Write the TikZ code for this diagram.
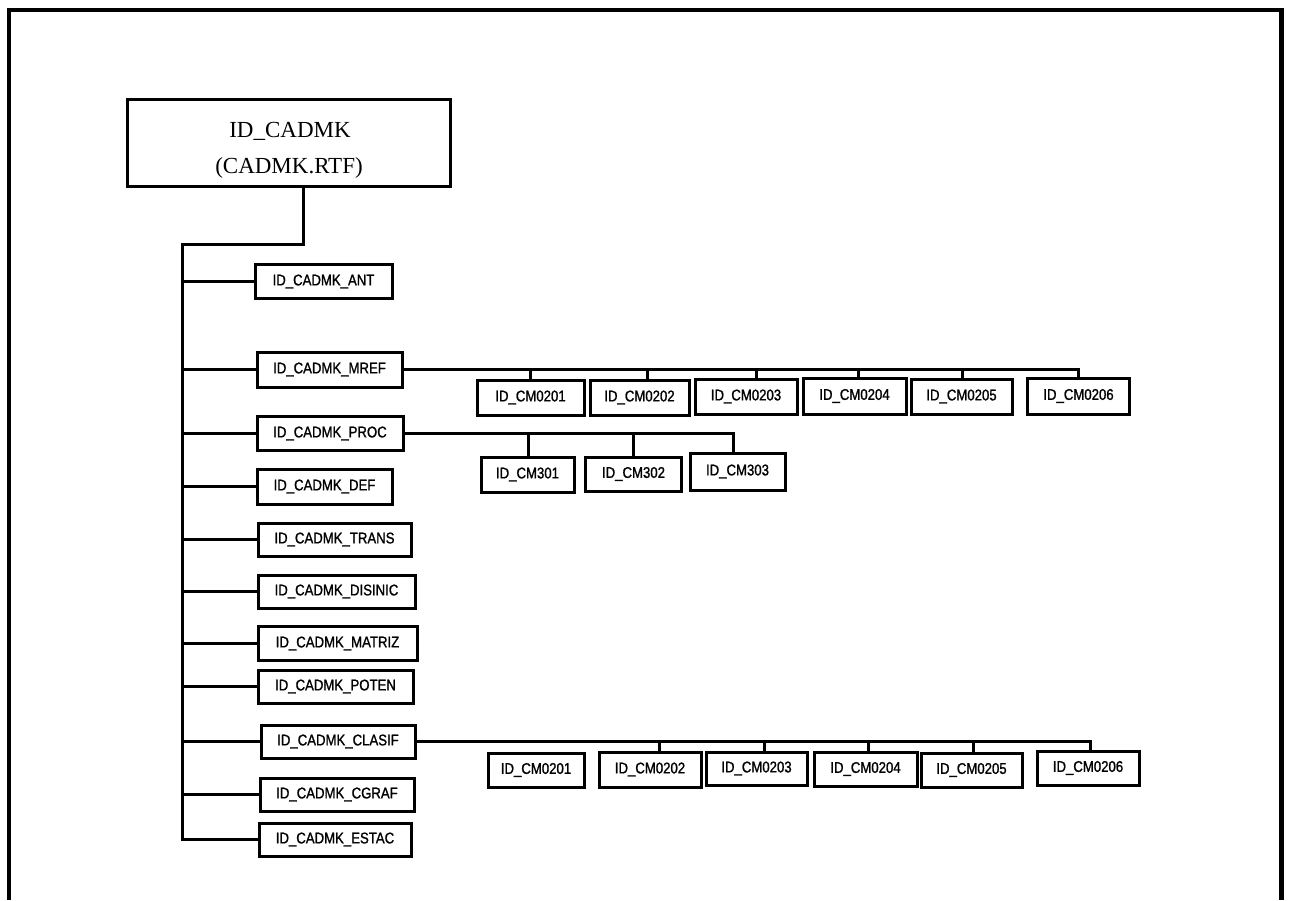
\documentclass[tikz,border=0pt]{standalone}
\usepackage{fontspec}
\setmainfont{Liberation Serif}
\newfontfamily\leaffont[FakeStretch=0.85,FakeBold=1.2]{Liberation Sans}
\begin{document}
\begin{tikzpicture}[x=1pt,y=-1pt,
  leaf/.style={draw, line width=3pt, inner sep=0pt,
    font=\leaffont\fontsize{15.5}{18}\selectfont},
  rootbox/.style={draw, line width=3pt, inner sep=0pt},
  roottext/.style={inner sep=0pt, font=\fontsize{23}{28}\selectfont},
  wire/.style={line width=3pt},
  frameline/.style={line width=3.8pt}]
\useasboundingbox (0,0) rectangle (1289,900);

% outer frame (open at the bottom)
\draw[frameline] (9,900) -- (9,10) -- (1281,10);
\draw[line width=5pt] (1281,8) -- (1281,900);

% root
\node[rootbox, minimum width=323pt, minimum height=87pt] (root) at (288.5,142.5) {};
\node[roottext] (rootname) at (290,131) {ID\_CADMK};
\node[roottext] (rootfile) at (289,168) {(CADMK.RTF)};

% first level
\node[leaf, minimum width=137pt, minimum height=34pt] (ant)     at (323.5,281.5) {ID\_CADMK\_ANT};
\node[leaf, minimum width=145pt, minimum height=35pt] (mref)    at (329.5,369.5) {ID\_CADMK\_MREF};
\node[leaf, minimum width=146pt, minimum height=34pt] (proc)    at (330,433.5)   {ID\_CADMK\_PROC};
\node[leaf, minimum width=135pt, minimum height=35pt] (def)     at (324.5,486.5) {ID\_CADMK\_DEF};
\node[leaf, minimum width=153pt, minimum height=33pt] (trans)   at (334.5,539.5) {ID\_CADMK\_TRANS};
\node[leaf, minimum width=157pt, minimum height=33pt] (disinic) at (336.5,591.5) {ID\_CADMK\_DISINIC};
\node[leaf, minimum width=159pt, minimum height=34pt] (matriz)  at (337.5,643.5) {ID\_CADMK\_MATRIZ};
\node[leaf, minimum width=155pt, minimum height=33pt] (poten)   at (335.5,686.5) {ID\_CADMK\_POTEN};
\node[leaf, minimum width=154pt, minimum height=33pt] (clasif)  at (338,741.5)   {ID\_CADMK\_CLASIF};
\node[leaf, minimum width=154pt, minimum height=33pt] (cgraf)   at (337,794.5)   {ID\_CADMK\_CGRAF};
\node[leaf, minimum width=152pt, minimum height=33pt] (estac)   at (335,839.5)   {ID\_CADMK\_ESTAC};

% children of MREF
\node[leaf, minimum width=107pt, minimum height=35pt] (ma1) at (530.5,397.5) {ID\_CM0201};
\node[leaf, minimum width=99pt,  minimum height=35pt] (ma2) at (639.5,397.5) {ID\_CM0202};
\node[leaf, minimum width=102pt, minimum height=35pt] (ma3) at (746,396.5)   {ID\_CM0203};
\node[leaf, minimum width=103pt, minimum height=36pt] (ma4) at (854.5,396)   {ID\_CM0204};
\node[leaf, minimum width=101pt, minimum height=35pt] (ma5) at (961.5,396.5) {ID\_CM0205};
\node[leaf, minimum width=102pt, minimum height=36pt] (ma6) at (1078.5,396)  {ID\_CM0206};

% children of PROC
\node[leaf, minimum width=93pt, minimum height=35pt] (pa1) at (527.5,474.5) {ID\_CM301};
\node[leaf, minimum width=96pt, minimum height=34pt] (pa2) at (633.5,474)   {ID\_CM302};
\node[leaf, minimum width=95pt, minimum height=37pt] (pa3) at (737.5,471.5) {ID\_CM303};

% children of CLASIF
\node[leaf, minimum width=96pt,  minimum height=34pt] (ca1) at (536,770)     {ID\_CM0201};
\node[leaf, minimum width=102pt, minimum height=35pt] (ca2) at (650,769.5)   {ID\_CM0202};
\node[leaf, minimum width=101pt, minimum height=33pt] (ca3) at (756.5,768.5) {ID\_CM0203};
\node[leaf, minimum width=103pt, minimum height=34pt] (ca4) at (865.5,769)   {ID\_CM0204};
\node[leaf, minimum width=101pt, minimum height=34pt] (ca5) at (971.5,770)   {ID\_CM0205};
\node[leaf, minimum width=102pt, minimum height=34pt] (ca6) at (1088,768)    {ID\_CM0206};

% trunk from the root
\coordinate (rd) at ([xshift=15pt]root.south);
\coordinate (jt) at (182.5,244.5);
\draw[wire] (rd) |- (jt) |- (estac.west);
\foreach \n in {ant,mref,proc,def,trans,disinic,matriz,poten,clasif,cgraf}
  \draw[wire] (jt |- \n.west) -- (\n.west);

% MREF bus
\coordinate (ta1) at (ma1.north);
\coordinate (ta2) at ([xshift=8pt]ma2.north);
\coordinate (ta3) at ([xshift=10pt]ma3.north);
\coordinate (ta4) at ([xshift=4pt]ma4.north);
\coordinate (ta5) at ([xshift=1pt]ma5.north);
\draw[wire] (mref.east) -| (ma6.north);
\foreach \t in {ta1,ta2,ta3,ta4,ta5}
  \draw[wire] (\t |- mref.east) -- (\t);

% PROC bus
\coordinate (tp1) at ([xshift=1pt]pa1.north);
\coordinate (tp2) at (pa2.north);
\coordinate (tp3) at ([xshift=-4pt]pa3.north);
\draw[wire] (proc.east) -| (tp3);
\foreach \t in {tp1,tp2}
  \draw[wire] (\t |- proc.east) -- (\t);

% CLASIF bus
\coordinate (tc2) at ([xshift=9pt]ca2.north);
\coordinate (tc3) at ([xshift=8pt]ca3.north);
\coordinate (tc4) at ([xshift=3pt]ca4.north);
\coordinate (tc5) at ([xshift=2pt]ca5.north);
\coordinate (tc6) at ([xshift=2.5pt]ca6.north);
\draw[wire] (clasif.east) -| (tc6);
\foreach \t in {tc2,tc3,tc4,tc5}
  \draw[wire] (\t |- clasif.east) -- (\t);
\end{tikzpicture}
\end{document}
